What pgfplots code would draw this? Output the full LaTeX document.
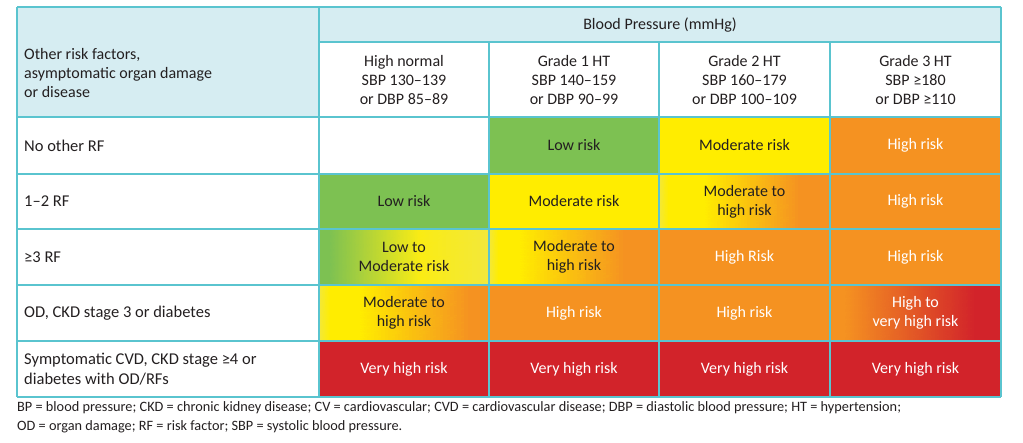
\documentclass[border=0pt]{standalone}
\usepackage{pgfplots}
\pgfplotsset{compat=1.18}
\usepackage{fontspec}
\setmainfont{Carlito}
\definecolor{cgreen}{RGB}{125,193,82}
\definecolor{cyellow}{RGB}{255,237,0}
\definecolor{clyellow}{RGB}{243,232,58}
\definecolor{corange}{RGB}{245,146,33}
\definecolor{cred}{RGB}{210,35,42}
\definecolor{chead}{RGB}{214,237,242}
\definecolor{cline}{RGB}{90,196,207}
\definecolor{ctext}{RGB}{35,31,32}
\newcommand{\cell}[5]{\addplot[draw=none,#5] coordinates {(#1,#3) (#2,#3) (#2,#4) (#1,#4)} --cycle;}
% horizontal gradient segment as an interpolated patch with explicit vertex colours
\newcommand{\gseg}[6]{\addplot[patch, patch type=rectangle, shader=interp, mesh/color input=explicit, point meta=explicit symbolic, draw=none]
  table[row sep=\\, meta=c] {x y c\\ #1 #3 rgb255=#5\\ #2 #3 rgb255=#6\\ #2 #4 rgb255=#6\\ #1 #4 rgb255=#5\\};}
\newcommand{\hl}[3]{\addplot[cline,line width=1.3pt,mark=none] coordinates {(#1,#3) (#2,#3)};}
\newcommand{\vl}[3]{\addplot[cline,line width=1.3pt,mark=none] coordinates {(#1,#2) (#1,#3)};}
\begin{document}
\begin{tikzpicture}
\begin{axis}[
  width=1023pt, height=443pt, scale only axis,
  xmin=0, xmax=1023, ymin=0, ymax=443, y dir=reverse,
  hide axis, clip=false,
]
% invisible frame to fix the picture size
\addplot[draw=none, mark=none] coordinates {(0,0) (1023,443)};
% header backgrounds
\cell{17}{319}{7}{117}{fill=chead}
\cell{319}{1001}{7}{42}{fill=chead}
% row 1: No other RF
\cell{489}{659}{117}{174}{fill=cgreen}
\cell{659}{830}{117}{174}{fill=cyellow}
\cell{830}{1001}{117}{174}{fill=corange}
% row 2: 1-2 RF
\cell{319}{489}{174}{229}{fill=cgreen}
\cell{489}{659}{174}{229}{fill=cyellow}
\gseg{659}{668.5}{174}{229}{243,232,58}{255,237,0}
\cell{668}{705.5}{174}{229}{fill=cyellow}
\gseg{705}{800.5}{174}{229}{255,237,0}{245,146,33}
\cell{800}{830}{174}{229}{fill=corange}
\cell{830}{1001}{174}{229}{fill=corange}
% row 3: >=3 RF
\cell{319}{330.5}{229}{285}{fill=cgreen}
\gseg{330}{420.5}{229}{285}{125,193,82}{250,236,20}
\gseg{420}{489}{229}{285}{250,236,20}{243,232,58}
\gseg{489}{498.5}{229}{285}{243,232,58}{255,237,0}
\cell{498}{520.5}{229}{285}{fill=cyellow}
\gseg{520}{625.5}{229}{285}{255,237,0}{245,146,33}
\cell{625}{659}{229}{285}{fill=corange}
\cell{659}{830}{229}{285}{fill=corange}
\cell{830}{1001}{229}{285}{fill=corange}
% row 4: OD, CKD 3 or diabetes
\gseg{319}{330.5}{285}{341}{243,232,58}{255,237,0}
\cell{330}{360.5}{285}{341}{fill=cyellow}
\gseg{360}{470.5}{285}{341}{255,237,0}{245,146,33}
\cell{470}{489}{285}{341}{fill=corange}
\cell{489}{659}{285}{341}{fill=corange}
\cell{659}{830}{285}{341}{fill=corange}
\cell{830}{845.5}{285}{341}{fill=corange}
\gseg{845}{975.5}{285}{341}{245,146,33}{210,35,42}
\cell{975}{1001}{285}{341}{fill=cred}
% row 5: symptomatic CVD
\cell{319}{1001}{341}{397}{fill=cred}
% grid lines
\hl{17}{1001}{7}
\hl{319}{1001}{42}
\hl{17}{1001}{117}
\hl{17}{1001}{174}
\hl{17}{1001}{229}
\hl{17}{1001}{285}
\hl{17}{1001}{341}
\hl{17}{1001}{397}
\vl{17}{7}{397}
\vl{1001}{7}{397}
\vl{319}{7}{397}
\vl{489}{42}{397}
\vl{659}{42}{397}
\vl{830}{42}{397}
% texts
\begin{scope}[every node/.style={font=\fontsize{16}{19}\selectfont, text=ctext, align=center, inner sep=0pt}]
\node[anchor=west, align=left] at (24,73) {Other risk factors,\\asymptomatic organ damage\\or disease};
\node at (660,25) {Blood Pressure (mmHg)};
\node at (404,80) {High normal\\SBP 130–139\\or DBP 85–89};
\node at (574,80) {Grade 1 HT\\SBP 140–159\\or DBP 90–99};
\node at (744.5,80) {Grade 2 HT\\SBP 160–179\\or DBP 100–109};
\node at (915.5,80) {Grade 3 HT\\SBP ≥180\\or DBP ≥110};
\node[anchor=west, font=\fontsize{16.5}{19}\selectfont] at (24,145.5) {No other RF};
\node[anchor=west, font=\fontsize{16.5}{19}\selectfont] at (24,201.5) {1–2 RF};
\node[anchor=west, font=\fontsize{16.5}{19}\selectfont] at (24,257) {≥3 RF};
\node[anchor=west, font=\fontsize{16.5}{19}\selectfont] at (24,313) {OD, CKD stage 3 or diabetes};
\node[anchor=west, align=left, font=\fontsize{16.5}{19.5}\selectfont] at (24,369) {Symptomatic CVD, CKD stage ≥4 or\\diabetes with OD/RFs};
% cells
\node at (574,145.5) {Low risk};
\node at (744.5,145.5) {Moderate risk};
\node[text=white] at (915.5,145.5) {High risk};
\node at (404,201.5) {Low risk};
\node at (574,201.5) {Moderate risk};
\node at (744.5,201.5) {Moderate to\\high risk};
\node[text=white] at (915.5,201.5) {High risk};
\node at (404,257) {Low to\\Moderate risk};
\node at (574,257) {Moderate to\\high risk};
\node[text=white] at (744.5,257) {High Risk};
\node[text=white] at (915.5,257) {High risk};
\node at (404,313) {Moderate to\\high risk};
\node[text=white] at (574,313) {High risk};
\node[text=white] at (744.5,313) {High risk};
\node[text=white] at (915.5,313) {High to\\very high risk};
\node[text=white] at (404,369) {Very high risk};
\node[text=white] at (574,369) {Very high risk};
\node[text=white] at (744.5,369) {Very high risk};
\node[text=white] at (915.5,369) {Very high risk};
\end{scope}
\node[anchor=north west, align=left, inner sep=0pt, font=\fontsize{14.3}{19}\selectfont, text=ctext] at (17,401) {BP = blood pressure; CKD = chronic kidney disease; CV = cardiovascular; CVD = cardiovascular disease; DBP = diastolic blood pressure; HT = hypertension;\\OD = organ damage; RF = risk factor; SBP = systolic blood pressure.};
\end{axis}
\end{tikzpicture}
\end{document}
